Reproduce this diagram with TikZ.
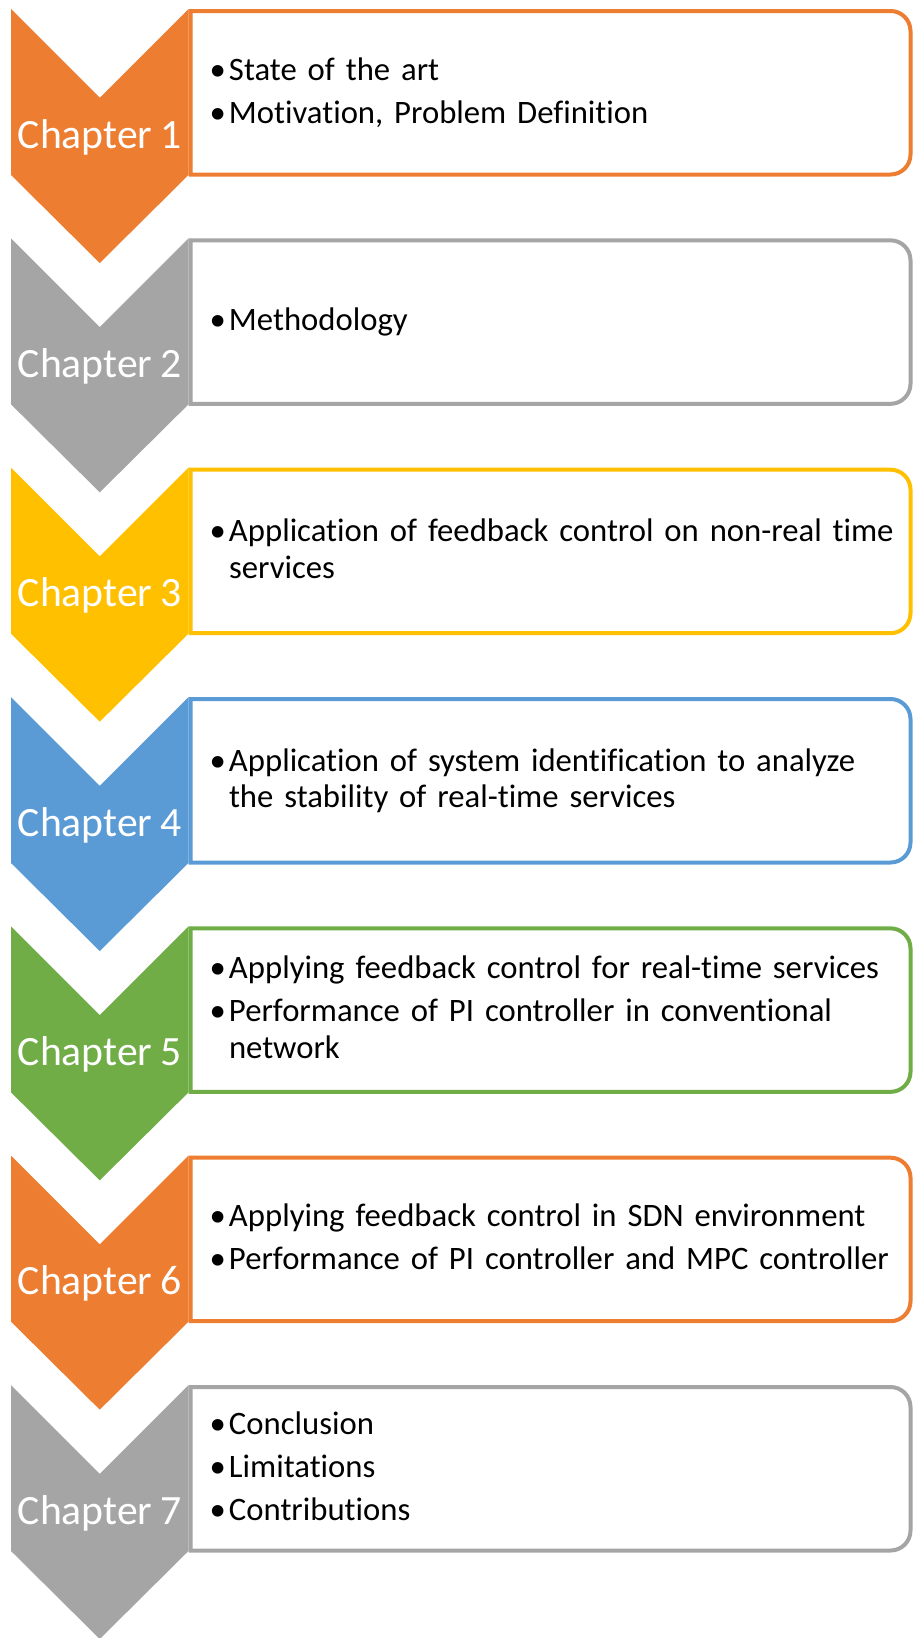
\documentclass[tikz,border=0pt]{standalone}
\usepackage{fontspec}
\setmainfont{Carlito}[Ligatures=NoCommon, WordSpace=0.85]

\definecolor{accorange}{HTML}{ED7D31}
\definecolor{accgray}{HTML}{A5A5A5}
\definecolor{accgold}{HTML}{FFC000}
\definecolor{accblue}{HTML}{5B9BD5}
\definecolor{accgreen}{HTML}{70AD47}

% body text of the boxes
\newcommand\bodyfont{\fontsize{32.7}{36.7}\selectfont\raggedright}
% one bullet point with a hanging indent
\newcommand\bitem[1]{\noindent\hangindent=19.3pt\hangafter=1%
  \makebox[19.3pt][l]{•}#1\par\vspace{6.3pt}}

\tikzset{
  boxline/.style={line width=4pt, fill=white, line join=miter},
  chaplabel/.style={anchor=base, inner sep=0pt, text=white,
    font=\fontsize{41.7}{46}\selectfont},
  bodytext/.style={anchor=base west, inner sep=0pt, text width=700pt,
    text=black, font=\bodyfont},
}

% #1 number, #2 colour, #3 top edge, #4 first baseline offset, #5 items
\newcommand\chapterrow[5]{%
  \draw[boxline, draw=#2]
    (190.5,#3+2) -- (890.5,#3+2)
    .. controls (901.55,#3+2) and (910.5,#3+10.95) .. (910.5,#3+22)
    -- (910.5,#3+145.5)
    .. controls (910.5,#3+156.55) and (901.55,#3+165.5) .. (890.5,#3+165.5)
    -- (190.5,#3+165.5) -- cycle;
  \fill[#2] (11,#3) -- (99.75,#3+88.75) -- (188.5,#3) -- (188.5,#3+166)
    -- (99.75,#3+254) -- (11,#3+166) -- cycle;
  \node[chaplabel] (lbl#1) at (99.75,#3+139) {Chapter #1};
  \node[bodytext] (txt#1) at (209.5,#3+#4) {\bodyfont #5};
}

\begin{document}
\begin{tikzpicture}[x=1pt, y=-1pt]
  \useasboundingbox (0,0) rectangle (913,1638);

  \chapterrow{1}{accorange}{9}{71}{%
    \bitem{State of the art}%
    \bitem{Motivation, Problem Definition}}
  \chapterrow{2}{accgray}{238.33}{92.5}{%
    \bitem{Methodology}}
  \chapterrow{3}{accgold}{467.67}{74.15}{%
    \bitem{Application of feedback control on non-real time\newline services}}
  \chapterrow{4}{accblue}{697}{74.15}{%
    \bitem{Application of system identification to analyze\newline the stability of real-time services}}
  \chapterrow{5}{accgreen}{926.33}{52.65}{%
    \bitem{Applying feedback control for real-time services}%
    \bitem{Performance of PI controller in conventional\newline network}}
  \chapterrow{6}{accorange}{1155.67}{71}{%
    \bitem{Applying feedback control in SDN environment}%
    \bitem{Performance of PI controller and MPC controller}}
  \chapterrow{7}{accgray}{1385}{49.5}{%
    \bitem{Conclusion}%
    \bitem{Limitations}%
    \bitem{Contributions}}
\end{tikzpicture}
\end{document}
